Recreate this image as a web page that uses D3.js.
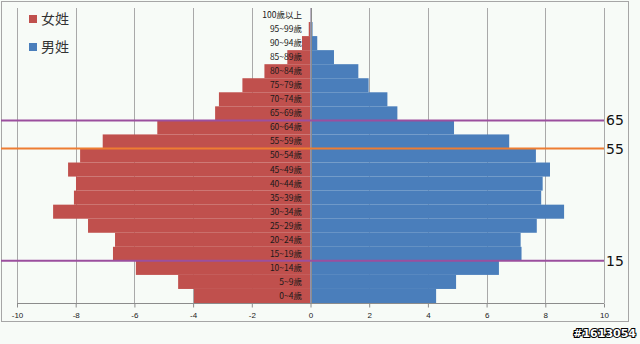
<!DOCTYPE html>
<html><head><meta charset="utf-8">
<script src="https://cdn.jsdelivr.net/npm/d3@7"></script>
<style>
html,body{margin:0;padding:0;background:#f7fbf7;}
svg{display:block;}
</style></head>
<body>
<svg id="c" width="640" height="344"></svg>
<script>
const ageGroups = ["0~4歲","5~9歲","10~14歲","15~19歲","20~24歲","25~29歲","30~34歲","35~39歲","40~44歲","45~49歲","50~54歲","55~59歲","60~64歲","65~69歲","70~74歲","75~79歲","80~84歲","85~89歲","90~94歲","95~99歲","100歲以上"];
const female = [-3.97,-4.51,-5.95,-6.73,-6.66,-7.58,-8.77,-8.06,-7.99,-8.26,-7.85,-7.08,-5.22,-3.25,-3.12,-2.32,-1.57,-0.79,-0.29,-0.06,-0.01];
const male = [4.28,4.96,6.42,7.19,7.16,7.71,8.64,7.86,7.91,8.16,7.68,6.77,4.89,2.96,2.62,1.98,1.63,0.80,0.23,0.07,0.01];
const xTicks = [-10,-8,-6,-4,-2,0,2,4,6,8,10];
const refLines = [{age:"65", idx:13, color:"#9b4f9e"},{age:"55", idx:11, color:"#ee7d32"},{age:"15", idx:3, color:"#9b4f9e"}];
const legendItems = [{name:"女姓", color:"#c0504d"},{name:"男姓", color:"#4a7ebb"}];

const svg = d3.select("#c");
const font = "'Liberation Sans', Arial, sans-serif";
const cjk = "'Noto Sans CJK TC', 'Noto Sans CJK SC', sans-serif";

// outer frame
svg.append("rect").attr("x",1.5).attr("y",1.5).attr("width",627).attr("height",320)
  .attr("fill","#f7fbf7").attr("stroke","#a6a6a6").attr("stroke-width",1);

const x = d3.scaleLinear().domain([-10,10]).range([17,604]);
const y = d3.scaleBand().domain(d3.range(ageGroups.length)).range([303,8]).padding(0);

// gridlines
svg.append("g").selectAll("line").data(xTicks).join("line")
  .attr("x1",d=>Math.round(x(d))+0.5).attr("x2",d=>Math.round(x(d))+0.5)
  .attr("y1",8).attr("y2",303).attr("stroke","#a9a9a9").attr("stroke-width",1);

// bars
svg.append("g").selectAll("rect").data(female).join("rect")
  .attr("x",d=>x(d)).attr("width",d=>x(0)-x(d))
  .attr("y",(d,i)=>y(i)).attr("height",y.bandwidth())
  .attr("fill","#c0504d");
svg.append("g").selectAll("rect").data(male).join("rect")
  .attr("x",x(0)).attr("width",d=>x(d)-x(0))
  .attr("y",(d,i)=>y(i)).attr("height",y.bandwidth())
  .attr("fill","#4a7ebb");

// center axis line
svg.append("line").attr("x1",Math.round(x(0))+0.5).attr("x2",Math.round(x(0))+0.5)
  .attr("y1",8).attr("y2",303).attr("stroke","#8c8c8c");

// x axis
const xAxis = d3.axisBottom(x).tickValues(xTicks).tickSize(4).tickFormat(d3.format("d"));
const gx = svg.append("g").attr("transform","translate(0,303.5)").call(xAxis);
gx.select(".domain").attr("stroke","#8c8c8c").attr("d","M17,0H604");
gx.selectAll(".tick line").attr("stroke","#8c8c8c");
gx.selectAll(".tick text").attr("font-family",font).attr("font-size",8).attr("fill","#222").attr("dy","0.9em")
  .text(d=>d<0?"-"+Math.abs(d):d);

// age labels
svg.append("g").selectAll("text").data(ageGroups).join("text")
  .attr("x",302).attr("y",(d,i)=>y(i)+y.bandwidth()/2)
  .attr("dy","0.35em").attr("text-anchor","end")
  .attr("font-family",cjk).attr("font-size",8.5).attr("fill","#1a1a1a")
  .text(d=>d);

// reference lines
refLines.forEach(r=>{
  const yy = y(r.idx-1) ;
  svg.append("line").attr("x1",1).attr("x2",604).attr("y1",yy).attr("y2",yy)
    .attr("stroke",r.color).attr("stroke-width",2);
  svg.append("text").attr("x",606).attr("y",yy).attr("dy","0.36em")
    .attr("font-family","'DejaVu Sans', sans-serif").attr("font-size",14).attr("fill","#111")
    .text(r.age);
});

// legend
legendItems.forEach((l,i)=>{
  const ly = 19 + i*28;
  svg.append("rect").attr("x",29).attr("y",ly-4).attr("width",8).attr("height",8).attr("fill",l.color);
  svg.append("text").attr("x",41).attr("y",ly).attr("dy","0.35em")
    .attr("font-family",cjk).attr("font-size",14).attr("fill","#333").text(l.name);
});

// watermark
svg.append("text").attr("x",636).attr("y",337).attr("text-anchor","end")
  .attr("font-family","'DejaVu Sans', sans-serif").attr("font-weight","bold").attr("font-size",11)
  .attr("fill","#fff").attr("stroke","#000").attr("stroke-width",2).attr("paint-order","stroke")
  .text("#1613054");
</script>
</body></html>
